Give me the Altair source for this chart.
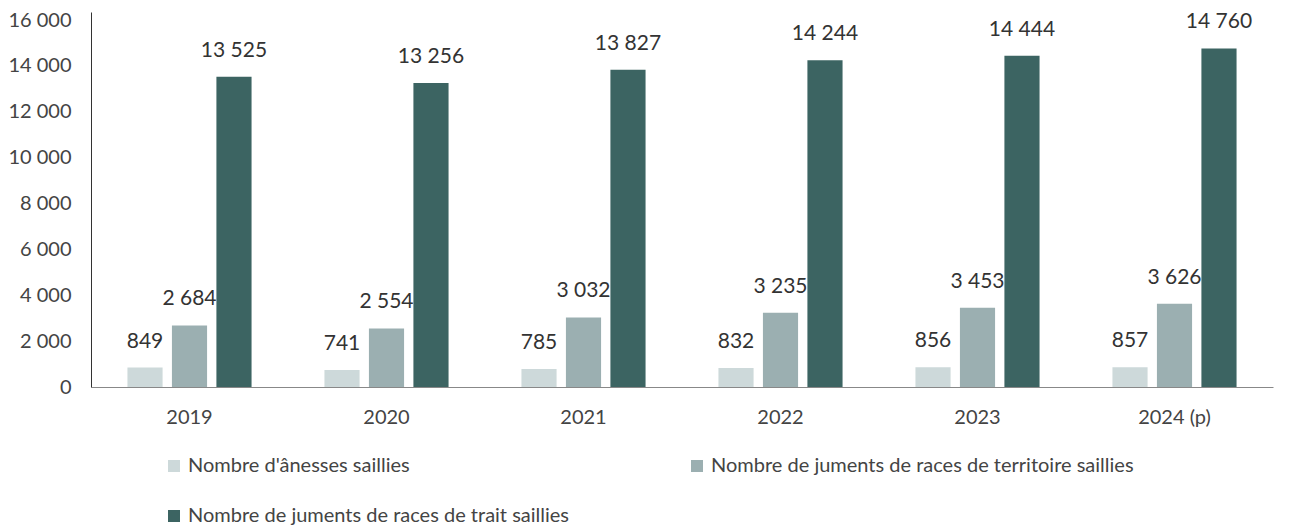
import altair as alt
import pandas as pd

years = ["2019", "2020", "2021", "2022", "2023", "2024 (p)"]
anesses = [849, 741, 785, 832, 856, 857]
territoire = [2684, 2554, 3032, 3235, 3453, 3626]
trait = [13525, 13256, 13827, 14244, 14444, 14760]
series = ["Nombre d'ânesses saillies",
          "Nombre de juments de races de territoire saillies",
          "Nombre de juments de races de trait saillies"]
colors = ["#CDD9DA", "#9BAFB1", "#3C6462"]

rows = []
for i, y in enumerate(years):
    for s, vals in zip(series, [anesses, territoire, trait]):
        v = vals[i]
        rows.append({"year": y, "serie": s, "value": v,
                     "label": f"{v:,}".replace(",", " ")})
df = pd.DataFrame(rows)

FONT = "Lato"
x = alt.X("year:N", sort=years, title=None,
          scale=alt.Scale(paddingInner=0.37, paddingOuter=0.185),
          axis=alt.Axis(labelAngle=0, ticks=False, domainColor="#888888",
                        labelFontSize=20, labelColor="#444444", labelPadding=20,
                        labelFont=FONT))
xo = alt.XOffset("serie:N", sort=series,
                 scale=alt.Scale(paddingInner=0.21, paddingOuter=0))
y = alt.Y("value:Q", title=None,
          scale=alt.Scale(domain=[0, 16350], nice=False),
          axis=alt.Axis(values=list(range(0, 16001, 2000)), grid=False, ticks=False,
                        domainColor="#333333", labelFontSize=20, labelColor="#444444",
                        labelPadding=20, labelFont=FONT,
                        labelExpr="replace(format(datum.value, ','), ',', ' ')"))

legend_order = [series[0], series[2], series[1]]

bars = alt.Chart(df).mark_bar().encode(
    x=x, xOffset=xo, y=y,
    color=alt.Color("serie:N", sort=series,
                    scale=alt.Scale(domain=series, range=colors),
                    legend=alt.Legend(title=None, orient="none", legendX=73, legendY=444,
                                      values=legend_order,
                                      columns=2, columnPadding=117, rowPadding=30,
                                      symbolType="square", symbolSize=144,
                                      symbolStrokeWidth=0, labelFontSize=20,
                                      labelOffset=4,
                                      labelColor="#444444", labelFont=FONT,
                                      labelLimit=700, symbolOpacity=1)),
)

text = alt.Chart(df).mark_text(baseline="bottom", dy=-16, fontSize=21,
                               color="#333333", font=FONT).encode(
    x=x, xOffset=xo, y=y, text="label:N")

chart = (bars + text).properties(
    width=1182, height=375,
    autosize=alt.AutoSizeParams(type="none"),
    padding={"left": 83, "top": 4, "right": 8, "bottom": 143},
).configure(background="white").configure_view(stroke=None)

chart.save("out.html", embed_options={"renderer": "svg", "actions": False})
